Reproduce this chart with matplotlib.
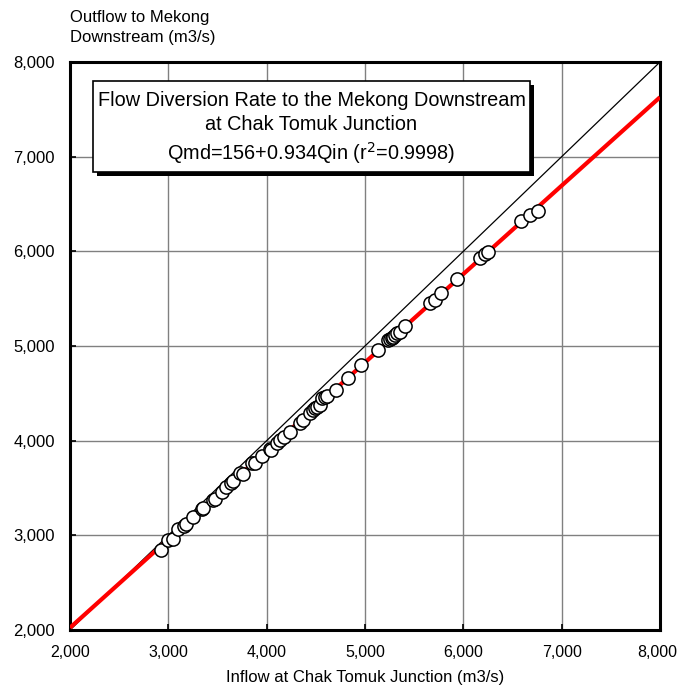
import matplotlib
matplotlib.use("Agg")
import matplotlib.pyplot as plt
import matplotlib.transforms as mtransforms
from matplotlib.patches import Rectangle
import numpy as np

plt.rcParams['font.family'] = ['Liberation Sans', 'DejaVu Sans']

# Observed data (inflow at Chak Tomuk, outflow to Mekong downstream), m3/s
inflow = [2925, 3001, 3052, 3103, 3159, 3179, 3247, 3338, 3352, 3450, 3474, 3542,
          3585, 3636, 3657, 3728, 3758, 3850, 3880, 3948, 4038, 4043, 4104, 4134,
          4180, 4236, 4337, 4368, 4439, 4473, 4490, 4510, 4541, 4561, 4591, 4612,
          4703, 4828, 4957, 5130, 5232, 5252, 5272, 5283, 5303, 5323, 5354, 5405,
          5659, 5709, 5777, 5938, 6167, 6223, 6248, 6590, 6675, 6761]
outflow = [2840, 2951, 2961, 3067, 3099, 3120, 3189, 3275, 3289, 3368, 3384, 3458,
           3511, 3553, 3574, 3659, 3648, 3761, 3767, 3843, 3907, 3902, 3975, 4012,
           4044, 4095, 4184, 4218, 4289, 4324, 4342, 4356, 4377, 4451, 4461, 4472,
           4535, 4667, 4799, 4958, 5063, 5079, 5084, 5095, 5116, 5137, 5153, 5211,
           5449, 5486, 5565, 5705, 5926, 5967, 5993, 6320, 6384, 6426]

fit_intercept = 156
fit_slope = 0.934
axis_min, axis_max = 2000, 8000
ticks = [2000, 3000, 4000, 5000, 6000, 7000, 8000]
tick_labels = ["2,000", "3,000", "4,000", "5,000", "6,000", "7,000", "8,000"]

fig = plt.figure(figsize=(6.78, 6.90), dpi=100)
ax = fig.add_axes([70/678, 1-630/690, 590/678, 568/690])

ax.set_xlim(axis_min, axis_max)
ax.set_ylim(axis_min, axis_max)
ax.set_xticks(ticks)
ax.set_yticks(ticks)
ax.set_xticklabels(tick_labels, fontsize=11.5)
ax.set_yticklabels(tick_labels, fontsize=12)
ax.grid(True, color='#808080', linewidth=1.0, zorder=0)
ax.set_axisbelow(True)
ax.tick_params(axis='y', direction='in', length=4, width=1.2, color='black', pad=11)
ax.tick_params(axis='x', direction='in', length=4, width=1.2, color='black', pad=11)
for s in ax.spines.values():
    s.set_linewidth(2.2)
    s.set_color('black')

# keep the last x tick label inside the canvas
last = ax.get_xticklabels()[-1]
last.set_transform(last.get_transform() +
                   mtransforms.ScaledTranslation(-3/100, 0, fig.dpi_scale_trans))

# 1:1 line
ax.plot([axis_min, axis_max], [axis_min, axis_max], color='black', linewidth=0.9, zorder=2)
# regression line
fx = np.array([axis_min, axis_max])
ax.plot(fx, fit_intercept + fit_slope * fx, color='#ff0000', linewidth=3.0, zorder=3,
        solid_capstyle='butt', clip_on=True)
# observed points
ax.plot(inflow, outflow, linestyle='none', marker='o', markersize=9.5,
        markerfacecolor='white', markeredgecolor='black', markeredgewidth=1.1, zorder=4)

ax.set_xlabel("Inflow at Chak Tomuk Junction (m3/s)", fontsize=12, labelpad=7)
fig.text(70/678, 1-10/690, "Outflow to Mekong\nDownstream (m3/s)", fontsize=12,
         ha='left', va='top', linespacing=1.4)

# annotation box with drop shadow
bx0, bx1 = (93-70)/590, (530-70)/590
by0, by1 = (630-172)/568, (630-81)/568
ax.add_patch(Rectangle((bx0 + 4/590, by0 - 4/568), bx1-bx0, by1-by0,
                       transform=ax.transAxes, facecolor='black', edgecolor='none', zorder=5))
ax.add_patch(Rectangle((bx0, by0), bx1-bx0, by1-by0, transform=ax.transAxes,
                       facecolor='white', edgecolor='black', linewidth=1.2, zorder=6))
cx = (bx0 + bx1) / 2
ax.text(cx, (630-101)/568, "Flow Diversion Rate to the Mekong Downstream", transform=ax.transAxes,
        ha='center', va='center', fontsize=14.3, zorder=7)
ax.text(cx, (630-125)/568, "at Chak Tomuk Junction", transform=ax.transAxes,
        ha='center', va='center', fontsize=14.3, zorder=7)
ax.text(cx, (630-153)/568, r"Qmd=156+0.934Qin (r$^{2}$=0.9998)", transform=ax.transAxes,
        ha='center', va='center', fontsize=14.3, zorder=7)

fig.savefig("out.png", dpi=100, facecolor='white')
